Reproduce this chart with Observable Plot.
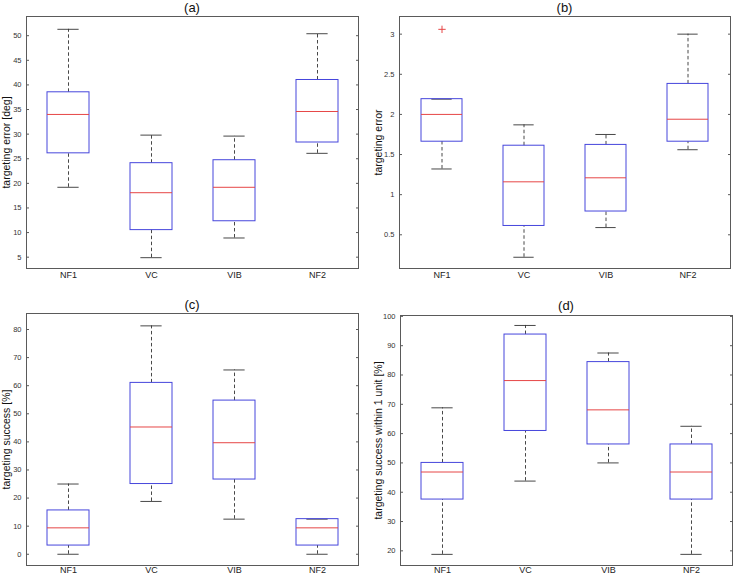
<!DOCTYPE html>
<html>
<head>
<meta charset="utf-8">
<script src="https://cdn.jsdelivr.net/npm/d3@7"></script>
<script src="https://cdn.jsdelivr.net/npm/@observablehq/plot@0.6"></script>
<style>
  html, body { margin: 0; padding: 0; background: #fff; }
  #root { position: relative; width: 734px; height: 576px; overflow: hidden; font-family: "Liberation Sans", Arial, sans-serif; }
  .panel { position: absolute; }
  .title { position: absolute; font-size: 13px; color: #111; transform: translateX(-50%); white-space: nowrap; line-height: 1; }
</style>
</head>
<body>
<div id="root"></div>
<script>
// ---- data ----
const categories = ["NF1", "VC", "VIB", "NF2"];

// (a) targeting error [deg]
const aLower  = [19.2, 4.9, 8.9, 26.1];
const aQ1     = [26.1, 10.5, 12.3, 28.3];
const aMedian = [34.0, 18.1, 19.2, 34.6];
const aQ3     = [38.5, 24.1, 24.7, 41.0];
const aUpper  = [51.3, 29.8, 29.6, 50.4];
const aTicks  = [5, 10, 15, 20, 25, 30, 35, 40, 45, 50];

// (b) targeting error
const bLower  = [1.32, 0.22, 0.59, 1.56];
const bQ1     = [1.66, 0.61, 0.79, 1.66];
const bMedian = [2.00, 1.16, 1.21, 1.94];
const bQ3     = [2.19, 1.61, 1.62, 2.38];
const bUpper  = [2.19, 1.87, 1.75, 3.00];
const bOutliers = [{cat: "NF1", value: 3.06}];
const bTicks  = [0.5, 1, 1.5, 2, 2.5, 3];

// (c) targeting success [%]
const cLower  = [0, 18.8, 12.5, 0];
const cQ1     = [3.1, 25.0, 26.6, 3.1];
const cMedian = [9.4, 45.3, 39.7, 9.4];
const cQ3     = [15.6, 61.0, 54.7, 12.5];
const cUpper  = [25.0, 81.3, 65.6, 12.5];
const cTicks  = [0, 10, 20, 30, 40, 50, 60, 70, 80];

// (d) targeting success within 1 unit [%]
const dLower  = [18.8, 43.8, 50.0, 18.8];
const dQ1     = [37.5, 60.9, 56.3, 37.5];
const dMedian = [46.9, 78.1, 68.1, 46.9];
const dQ3     = [50.0, 93.8, 84.4, 56.3];
const dUpper  = [68.8, 96.9, 87.5, 62.5];
const dTicks  = [20, 30, 40, 50, 60, 70, 80, 90, 100];

function rows(lo, q1, med, q3, hi) {
  return categories.map((c, i) => ({cat: c, lo: lo[i], q1: q1[i], med: med[i], q3: q3[i], hi: hi[i]}));
}

const BLUE = "#4646dc";
const RED = "#e64646";
const AXIS = "#5a5a5a";
const WHISK = "#333";

function panel(cfg) {
  const data = rows(...cfg.stats);
  const w = cfg.width, h = cfg.height;
  const plotW = w - cfg.ml - cfg.mr;
  const bw = plotW / 4 * 0.5;
  return Plot.plot({
    width: w,
    height: h,
    marginLeft: cfg.ml,
    marginRight: cfg.mr,
    marginTop: cfg.mt,
    marginBottom: cfg.mb,
    style: {fontFamily: "Liberation Sans, Arial, sans-serif", background: "white", overflow: "visible"},
    x: {type: "band", domain: categories, paddingInner: 0.5, paddingOuter: 0.25},
    y: {domain: cfg.domain},
    marks: [
      Plot.frame({stroke: AXIS, strokeWidth: 1}),
      Plot.axisX({tickSize: 0, tickPadding: cfg.xPad, fontSize: 9, fill: "#222", label: null}),
      Plot.axisY({anchor: "left", ticks: cfg.ticks, tickSize: 0, tickPadding: 5, fontSize: 7.5, fill: "#333",
                  tickFormat: d => String(d), label: null}),
      Plot.axisY({anchor: "left", ticks: cfg.ticks, tickSize: -3, tickFormat: () => "", stroke: AXIS, label: null}),
      Plot.axisY({anchor: "right", ticks: cfg.ticks, tickSize: -3, tickFormat: () => "", stroke: AXIS, label: null}),
      // y label
      Plot.text([cfg.label], {text: d => d, frameAnchor: "left", rotate: -90, dx: -cfg.labelOffset,
                              fontSize: 10.5, fill: "#111", textAnchor: "middle", lineAnchor: "middle"}),
      // whiskers
      Plot.ruleX(data.filter(d => d.hi > d.q3), {x: "cat", y1: "q3", y2: "hi", stroke: WHISK, strokeWidth: 0.9, strokeDasharray: "3.5,2.5"}),
      Plot.ruleX(data.filter(d => d.lo < d.q1), {x: "cat", y1: "lo", y2: "q1", stroke: WHISK, strokeWidth: 0.9, strokeDasharray: "3.5,2.5"}),
      // caps
      Plot.tickY(data, {x: "cat", y: "hi", stroke: WHISK, strokeWidth: 0.9, insetLeft: bw / 4, insetRight: bw / 4}),
      Plot.tickY(data, {x: "cat", y: "lo", stroke: WHISK, strokeWidth: 0.9, insetLeft: bw / 4, insetRight: bw / 4}),
      // box
      Plot.rectY(data, {x: "cat", y1: "q1", y2: "q3", fill: "none", stroke: BLUE, strokeWidth: 1}),
      // median
      Plot.tickY(data, {x: "cat", y: "med", stroke: RED, strokeWidth: 1}),
      // outliers
      Plot.dot(cfg.outliers || [], {x: "cat", y: "value", symbol: "plus", r: 2.5, stroke: RED, strokeWidth: 1})
    ]
  });
}

const root = document.getElementById("root");
const panels = [
  {left: 0, top: 0, width: 367, height: 290, ml: 26, mr: 9, mt: 16, mb: 22, domain: [2.7, 53.9], ticks: aTicks, xPad: 3,
   stats: [aLower, aQ1, aMedian, aQ3, aUpper], label: "targeting error [deg]", labelOffset: 20, title: "(a)", titleY: 1},
  {left: 367, top: 0, width: 367, height: 290, ml: 32, mr: 4, mt: 16, mb: 22, domain: [0.08, 3.22], ticks: bTicks, xPad: 3,
   stats: [bLower, bQ1, bMedian, bQ3, bUpper], outliers: bOutliers, label: "targeting error", labelOffset: 21, title: "(b)", titleY: 1},
  {left: 0, top: 288, width: 367, height: 288, ml: 26, mr: 9, mt: 25, mb: 11, domain: [-4, 85.7], ticks: cTicks, xPad: 1,
   stats: [cLower, cQ1, cMedian, cQ3, cUpper], label: "targeting success [%]", labelOffset: 20, title: "(c)", titleY: 10},
  {left: 367, top: 288, width: 367, height: 288, ml: 33, mr: 2, mt: 27, mb: 11, domain: [15, 100.3], ticks: dTicks, xPad: 1,
   stats: [dLower, dQ1, dMedian, dQ3, dUpper], label: "targeting success within 1 unit [%]", labelOffset: 22, title: "(d)", titleY: 11}
];

for (const p of panels) {
  const div = document.createElement("div");
  div.className = "panel";
  div.style.left = p.left + "px";
  div.style.top = p.top + "px";
  div.appendChild(panel(p));
  root.appendChild(div);
  const t = document.createElement("div");
  t.className = "title";
  t.textContent = p.title;
  t.style.left = (p.left + p.ml + (p.width - p.ml - p.mr) / 2) + "px";
  t.style.top = (p.top + p.titleY) + "px";
  root.appendChild(t);
}
</script>
</body>
</html>
